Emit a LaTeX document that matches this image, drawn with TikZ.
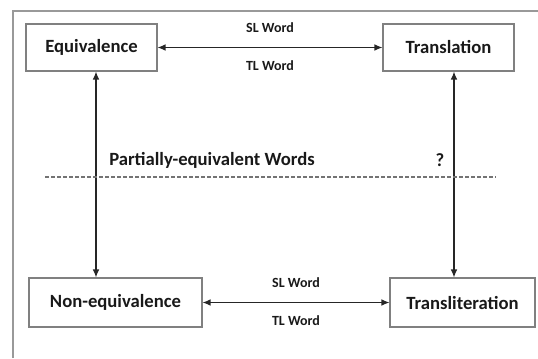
\documentclass[tikz,border=0pt]{standalone}
\usepackage{fontspec}
\setmainfont{Carlito}
\usetikzlibrary{arrows.meta}

\begin{document}
\begin{tikzpicture}[x=0.75pt, y=-0.75pt]

% Define styles for boxes, edge labels and arrows
\tikzstyle{caja} = [rectangle, draw=black!50, line width=0.8pt, inner sep=0pt, text=black!90, font=\fontsize{14}{16}\selectfont\bfseries]
\tikzstyle{etiqueta} = [inner sep=0pt, text=black!90, font=\fontsize{10.5}{12}\selectfont\bfseries]
\tikzstyle{flecha} = [{Latex[length=6pt,width=5pt]}-{Latex[length=6pt,width=5pt]}, line width=0.9pt, black!85]

\useasboundingbox (0,0) rectangle (538,358);

% Outer frame (only top and left side visible)
\coordinate (f1) at (13,358);
\coordinate (f2) at (13,11);
\coordinate (f3) at (538,11);
\draw[black!40, line width=1pt] (f1) -- (f2) -- (f3);

% The four boxes
\node[caja, minimum width=98.25pt, minimum height=35.25pt] (equiv) at (91.5,47.5) {Equivalence};
\node[caja, minimum width=98.25pt, minimum height=35.25pt] (transl) at (448.5,47.5) {Translation};
\node[caja, minimum width=129.75pt, minimum height=36.75pt] (nonequiv) at (115.5,302.5) {Non-equivalence};
\node[caja, minimum width=108.75pt, minimum height=36.75pt] (translit) at (462.5,302.5) {Transliteration};

% Horizontal arrows with their labels
\draw[flecha] (equiv) -- (transl)
	node[etiqueta, midway, above=11pt] {SL Word}
	node[etiqueta, midway, below=9.5pt] {TL Word};
\draw[flecha] (nonequiv) -- (translit)
	node[etiqueta, midway, above=11pt] {SL Word}
	node[etiqueta, midway, below=9.5pt] {TL Word};

% Vertical arrows
\coordinate (v1) at (96,0);
\coordinate (v2) at (454,0);
\draw[flecha] (equiv.south -| v1) -- (nonequiv.north -| v1);
\draw[flecha] (transl.south -| v2) -- (translit.north -| v2);

% Dashed separation line
\coordinate (d1) at (45,177);
\coordinate (d2) at (496,177);
\draw[black!55, line width=0.8pt, dash pattern=on 3pt off 1.5pt] (d1) -- (d2);

\node[caja, draw=none] (parcial) at (212,160) {Partially-equivalent Words};
\node[caja, draw=none] (pregunta) at (440,160) {?};

\end{tikzpicture}
\end{document}
